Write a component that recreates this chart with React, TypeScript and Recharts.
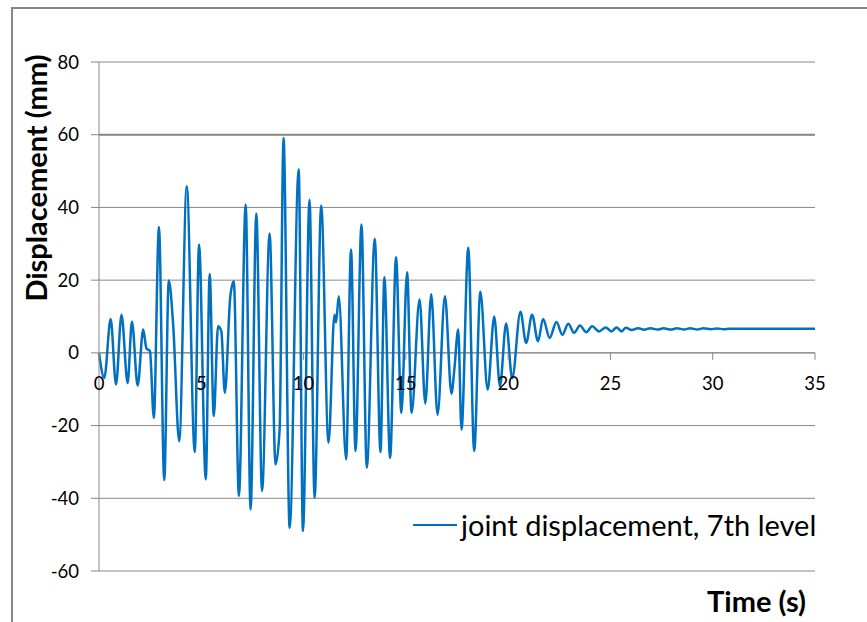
import { LineChart, Line, XAxis, YAxis, CartesianGrid, ReferenceLine } from 'recharts';

// joint displacement at the 7th level (peaks / troughs / shoulders)
const TIME = [
  0, 0.26, 0.57, 0.83, 1.1, 1.4, 1.61, 1.89, 2.16, 2.32, 2.49, 2.68, 2.93, 3.19, 3.41, 3.63, 3.92,
  4.29, 4.68, 4.89, 5.22, 5.41, 5.61, 5.82, 5.98, 6.15, 6.42, 6.59, 6.84, 7.17, 7.41, 7.69, 7.97,
  8.34, 8.63, 8.83, 9.02, 9.32, 9.76, 9.97, 10.29, 10.54, 10.86, 11.22, 11.51, 11.59, 11.72, 12.08,
  12.32, 12.54, 12.83, 13.09, 13.48, 13.76, 13.95, 14.23, 14.52, 14.78, 15.06, 15.28, 15.67, 15.95,
  16.24, 16.55, 16.91, 17.23, 17.37, 17.56, 17.72, 18.05, 18.34, 18.64, 19.0, 19.32, 19.6, 19.9,
  20.2, 20.6, 20.88, 21.17, 21.46, 21.71, 22.03, 22.36, 22.65, 22.94, 23.22, 23.51, 23.82, 24.11,
  24.44, 24.77, 25.05, 25.3, 25.55, 25.75, 26.05, 26.35, 26.65, 26.95, 27.3, 27.6, 27.95, 28.25,
  28.6, 28.9, 29.25, 29.55, 29.9, 30.2, 30.55, 30.8, 35,
];

const DISPLACEMENT = [
  0, -6.9, 9.3, -8.7, 10.5, -8.3, 8.6, -9.0, 6.4, 1.2, 0.5, -17.9, 34.6, -35.0, 19.9, 7.3, -24.3,
  45.8, -27.3, 29.8, -34.8, 21.7, -17.4, 7.3, 6.0, -11.0, 15.6, 19.7, -39.4, 40.8, -43.1, 38.3, -38.0,
  32.8, -30.7, -21.0, 59.1, -48.1, 50.4, -49.0, 42.1, -39.9, 40.5, -24.7, 10.5, 8.4, 15.6, -29.3,
  28.4, -27.0, 35.3, -31.6, 31.4, -27.3, 20.8, -28.9, 26.3, -16.5, 22.2, -16.5, 14.7, -13.9,
  16.1, -17.0, 15.6, -11.2, -4.6, 6.4, -21.1, 28.9, -27.0, 16.8, -10.1, 10.0, -9.2, 8.1,
  -7.0, 11.3, 2.7, 10.5, 3.2, 9.3, 4.1, 8.5, 5.0, 8.0, 5.5, 7.5, 5.7, 7.3,
  5.9, 7.0, 5.9, 7.0, 5.9, 6.9, 6.3, 6.8, 6.35, 6.8, 6.4, 6.75, 6.4, 6.75,
  6.45, 6.75, 6.45, 6.75, 6.5, 6.7, 6.5, 6.6, 6.6,
];

const X_TICKS = [0, 5, 10, 15, 20, 25, 30, 35];
const Y_TICKS = [-60, -40, -20, 0, 20, 40, 60, 80];

const SERIES_NAME = 'joint displacement, 7th level';
const BLUE = '#0070c0';
const GRID = '#878787';
const FONT = 'Lato, "Open Sans", sans-serif';

const W = 867;
const H = 622;
const MARGIN = { top: 62, right: 52, bottom: 50, left: 0 };
const X_AXIS_H = 1;
const Y_MIN = -60;
const Y_MAX = 80;
const PLOT_H = H - MARGIN.top - MARGIN.bottom - X_AXIS_H;
// the time axis crosses at displacement 0
const ZERO_Y = MARGIN.top + (PLOT_H * Y_MAX) / (Y_MAX - Y_MIN);

const data = TIME.map((t, i) => ({ t, d: DISPLACEMENT[i] }));

function TimeTick({ x, payload }: any) {
  return (
    <g>
      <line x1={x} x2={x} y1={ZERO_Y} y2={ZERO_Y + 7} stroke={GRID} />
      <text x={x} y={ZERO_Y + 37} textAnchor="middle" fontSize={18.5} fontFamily={FONT} fill="#000">
        {payload.value}
      </text>
    </g>
  );
}

export default function App() {
  return (
    <div style={{ position: 'absolute', left: 0, top: 0, width: W, height: H, background: '#fff' }}>
      {/* chart frame */}
      <div
        style={{
          position: 'absolute',
          left: 11,
          top: 7,
          width: W,
          height: H,
          borderLeft: `2px solid ${GRID}`,
          borderTop: `2px solid ${GRID}`,
        }}
      />
      <LineChart width={W} height={H} data={data} margin={MARGIN} style={{ position: 'absolute', left: 0, top: 0 }}>
        <CartesianGrid vertical={false} stroke={GRID} />
        <ReferenceLine y={60} stroke={GRID} strokeWidth={2} />
        <XAxis
          dataKey="t"
          type="number"
          domain={[0, 35]}
          ticks={X_TICKS}
          height={X_AXIS_H}
          axisLine={false}
          tickLine={false}
          tick={(props: any) => <TimeTick {...props} />}
          interval={0}
        />
        <YAxis
          type="number"
          domain={[Y_MIN, Y_MAX]}
          ticks={Y_TICKS}
          width={99}
          axisLine={{ stroke: GRID }}
          tickLine={{ stroke: GRID }}
          tickSize={8}
          tickMargin={12}
          interval={0}
          tick={{ fontSize: 18.5, fontFamily: FONT, fill: '#000' }}
        />
        <ReferenceLine y={0} stroke={GRID} />
        <Line
          type="monotone"
          dataKey="d"
          stroke={BLUE}
          strokeWidth={2.5}
          dot={false}
          isAnimationActive={false}
        />
      </LineChart>
      {/* legend */}
      <div
        style={{
          position: 'absolute',
          left: 413,
          top: 507,
          display: 'flex',
          alignItems: 'center',
          fontFamily: FONT,
          fontSize: 29,
          color: '#000',
          whiteSpace: 'nowrap',
        }}
      >
        <span style={{ display: 'inline-block', width: 44, height: 0, borderTop: `2.5px solid ${BLUE}`, marginRight: 4 }} />
        <span>{SERIES_NAME}</span>
      </div>
      {/* axis titles */}
      <div
        style={{
          position: 'absolute',
          right: W - 806,
          top: 583,
          fontFamily: FONT,
          fontWeight: 700,
          fontSize: 29,
          whiteSpace: 'nowrap',
        }}
      >
        Time (s)
      </div>
      <div
        style={{
          position: 'absolute',
          left: 35,
          top: 178,
          transform: 'translate(-50%, -50%) rotate(-90deg)',
          fontFamily: FONT,
          fontWeight: 700,
          fontSize: 29,
          whiteSpace: 'nowrap',
        }}
      >
        Displacement (mm)
      </div>
    </div>
  );
}
